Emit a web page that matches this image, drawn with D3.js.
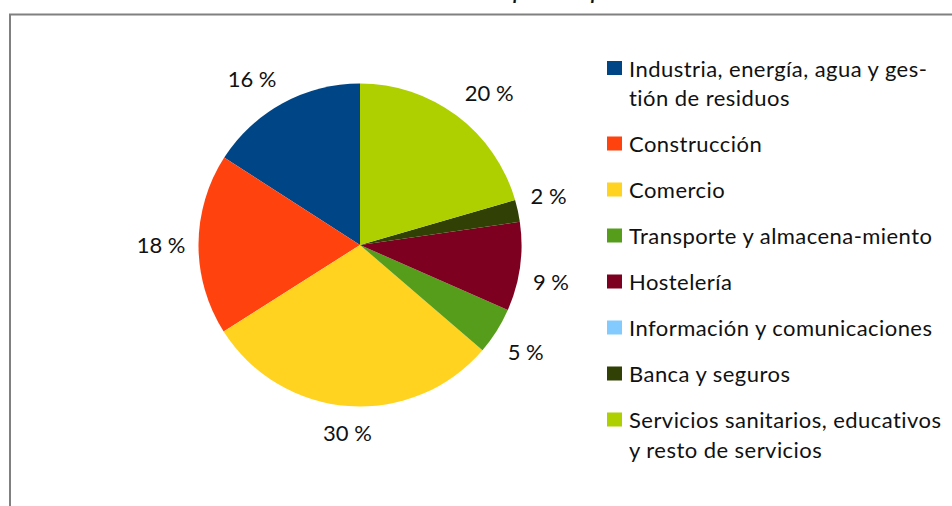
<!DOCTYPE html>
<html>
<head>
<meta charset="utf-8">
<script src="https://cdn.jsdelivr.net/npm/d3@7"></script>
<style>
  html, body { margin: 0; padding: 0; background: #fff; }
  svg { display: block; }
  text { font-family: Lato, "Open Sans", sans-serif; fill: #111; }
</style>
</head>
<body>
<svg id="chart" width="952" height="506"></svg>
<script>
// ---- data ----
const categories = [
  ["Industria, energía, agua y ges-", "tión de residuos"],
  ["Construcción"],
  ["Comercio"],
  ["Transporte y almacena-miento"],
  ["Hostelería"],
  ["Información y comunicaciones"],
  ["Banca y seguros"],
  ["Servicios sanitarios, educativos", "y resto de servicios"]
];
const values = [15.9, 18.1, 29.7, 4.7, 8.9, 0, 2.2, 20.5];
const percentLabels = ["16 %", "18 %", "30 %", "5 %", "9 %", "", "2 %", "20 %"];
const colors = ["#004586", "#ff420e", "#ffd320", "#579d1c", "#7e0021", "#83caff", "#314004", "#aecf00"];
const title = "Número de empresas por sector de actividad";

// ---- layout ----
const svg = d3.select("#chart");
const W = 952, H = 506;
const cx = 360, cy = 245, R = 161.5;

// frame
svg.append("path")
  .attr("d", `M10,${H + 5} L10,14.5 L${W + 5},14.5`)
  .attr("fill", "none")
  .attr("stroke", "#808080")
  .attr("stroke-width", 2);

// title (cut off at top in the original)
const t = svg.append("text")
  .attr("y", -2)
  .attr("font-style", "italic")
  .attr("font-size", 27)
  .text(title);
const pIdx = title.indexOf("p");
const px = t.node().getStartPositionOfChar(pIdx).x;
t.attr("x", 513 - px);

// pie (counter-clockwise from 12 o'clock)
const pie = d3.pie().sort(null).value(d => d).startAngle(0).endAngle(-2 * Math.PI);
const arcs = pie(values);
const arc = d3.arc().innerRadius(0).outerRadius(R);
const g = svg.append("g").attr("transform", `translate(${cx},${cy})`);
g.selectAll("path.slice")
  .data(arcs)
  .join("path")
  .attr("class", "slice")
  .attr("d", arc)
  .attr("fill", (d, i) => colors[i]);

// percent labels outside, anchored by the corner nearest the pie
g.selectAll("text.pct")
  .data(arcs.filter(d => d.value > 0))
  .join("text")
  .attr("class", "pct")
  .attr("font-size", 22)
  .attr("text-anchor", "middle")
  .attr("dominant-baseline", "central")
  .text(d => percentLabels[d.index])
  .each(function(d) {
    const a = (d.startAngle + d.endAngle) / 2;
    const sx = Math.sin(a), sy = -Math.cos(a);
    const bb = this.getBBox();
    const rr = R + 13;
    const hx = Math.abs(sx) < 0.1 ? 0 : Math.sign(sx) * bb.width / 2;
    const hy = Math.abs(sy) < 0.1 ? 0 : Math.sign(sy) * 13;
    d3.select(this).attr("x", sx * rr + hx).attr("y", sy * rr + hy);
  });

// legend
const lg = svg.append("g");
const lineH = 29.5, itemGap = 46;
let yy = 68;
categories.forEach((lines, i) => {
  lg.append("rect")
    .attr("x", 607).attr("y", yy - 7)
    .attr("width", 15).attr("height", 14)
    .attr("fill", colors[i]);
  lines.forEach((ln, j) => {
    lg.append("text")
      .attr("x", 629)
      .attr("y", yy + j * lineH)
      .attr("dominant-baseline", "central")
      .attr("font-size", 22)
      .attr("letter-spacing", 0.45)
      .text(ln);
  });
  yy += itemGap + (lines.length - 1) * lineH;
});
</script>
</body>
</html>
